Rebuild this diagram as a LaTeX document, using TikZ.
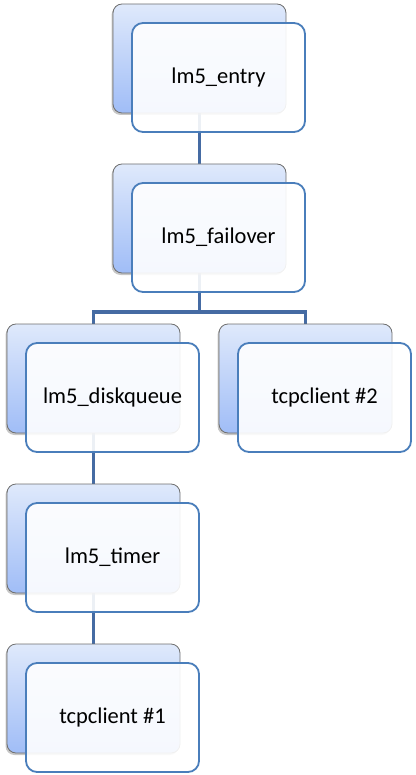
\documentclass[tikz,border=0pt]{standalone}
\usepackage{fontspec}
\setmainfont{Carlito}
\usetikzlibrary{shadows,backgrounds}

\definecolor{boxtop}{HTML}{DFE9FB}
\definecolor{boxbot}{HTML}{A0BDF7}
\definecolor{boxedge}{HTML}{6F6F6F}
\definecolor{cardedge}{HTML}{4A7EBB}
\definecolor{linkblue}{HTML}{456BA3}

\tikzset{
  back/.style={rectangle, rounded corners=9pt, minimum width=173pt, minimum height=109pt,
    draw=boxedge, line width=0.8pt, top color=boxtop, bottom color=boxbot,
    drop shadow={shadow xshift=-1.5pt, shadow yshift=-2pt, opacity=0.45}},
  card/.style={rectangle, rounded corners=11pt, minimum width=173pt, minimum height=109pt,
    draw=cardedge, line width=1.8pt, fill=white, fill opacity=0.9, text opacity=1,
    font=\fontsize{22.5}{27}\selectfont},
  link/.style={draw=linkblue, line width=3.6pt}
}

\begin{document}
\begin{tikzpicture}[x=1pt,y=-1pt,node distance=160pt]
\useasboundingbox (0,0) rectangle (415,775);
% back plates
\node[back] (0) at (199.5,58.5) {};
\node[back] (1) [below of = 0] {};
\node[back] (2) [below of = 1, xshift=-106pt] {};
\node[back] (3) [below of = 1, xshift=106pt] {};
\node[back] (4) [below of = 2] {};
\node[back] (5) [below of = 4] {};
% links
\begin{pgfonlayer}{background}
\path[link] (0.center) -- (1.center)
   (1.center) -- ++(0,93.5) -| (2.center)
   (1.center) -- ++(0,93.5) -| (3.center)
   (2.center) -- (4.center)
   (4.center) -- (5.center);
\end{pgfonlayer}
% cards
\node[card] (0f) at ([shift={(19pt,-19pt)}]0.center) {lm5\_entry};
\node[card] (1f) at ([shift={(19pt,-19pt)}]1.center) {lm5\_failover};
\node[card] (2f) at ([shift={(19pt,-19pt)}]2.center) {lm5\_diskqueue};
\node[card] (3f) at ([shift={(19pt,-19pt)}]3.center) {tcpclient \#2};
\node[card] (4f) at ([shift={(19pt,-19pt)}]4.center) {lm5\_timer};
\node[card] (5f) at ([shift={(19pt,-19pt)}]5.center) {tcpclient \#1};
\end{tikzpicture}
\end{document}
